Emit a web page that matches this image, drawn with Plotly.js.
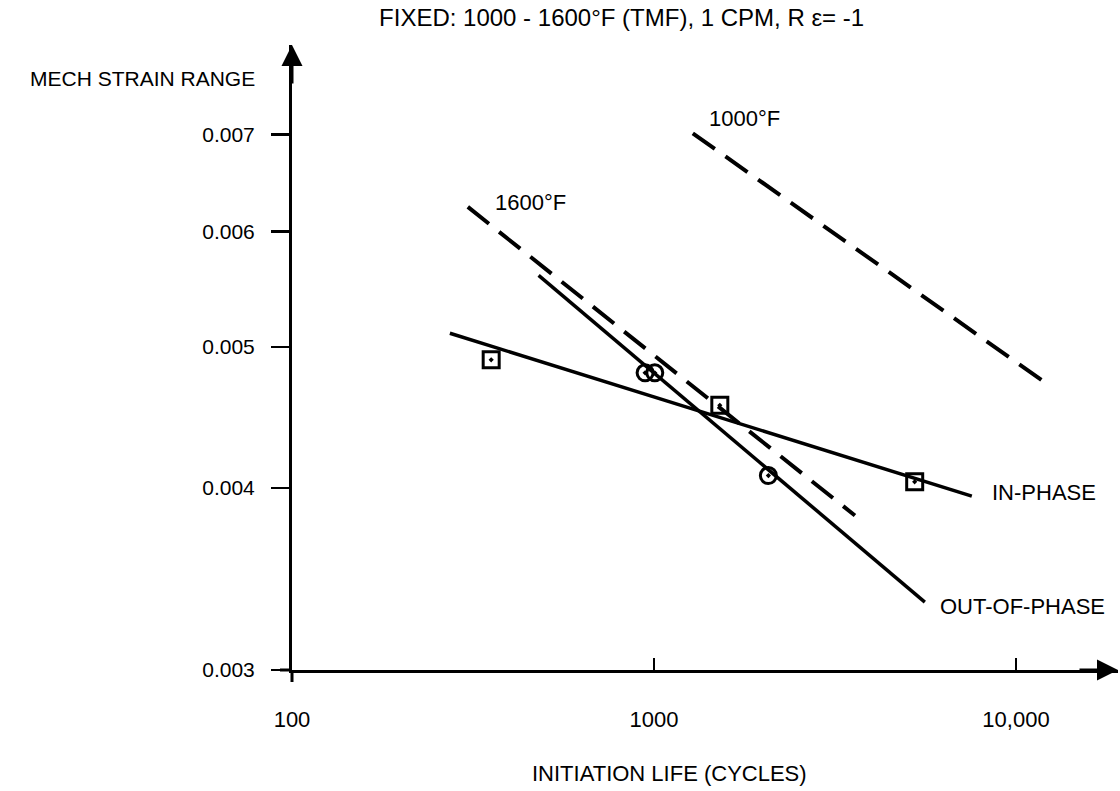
<!DOCTYPE html>
<html>
<head>
<meta charset="utf-8">
<script src="https://cdn.plot.ly/plotly-3.0.1.min.js"></script>
<style>html,body{margin:0;padding:0;background:#fff;}#chart{width:1120px;height:791px;}</style>
</head>
<body>
<div id="chart"></div>
<script>
// Data
const inPhaseCycles = [355, 1520, 5250];
const inPhaseStrain = [0.0049, 0.00456, 0.00404];
const outPhaseCycles = [945, 1005, 2070];
const outPhaseStrain = [0.0048, 0.0048, 0.00408];
const inFitCycles = [273, 7550];
const inFitStrain = [0.00511, 0.00395];
const outFitCycles = [480, 5600];
const outFitStrain = [0.0056, 0.00334];
const iso1600Cycles = [306, 3590];
const iso1600Strain = [0.00624, 0.00383];
const iso1000Cycles = [1280, 12570];
const iso1000Strain = [0.00701, 0.00469];
const xTickVals = [100, 1000, 10000];
const xTickText = ['100', '1000', '10,000'];
const yTickVals = [0.003, 0.004, 0.005, 0.006, 0.007];
const yTickText = ['0.003', '0.004', '0.005', '0.006', '0.007'];
const labelText = ['IN-PHASE', 'OUT-OF-PHASE', '1600°F', '1000°F'];
const labelCycles = [8500, 6090, 359, 1401];
const labelStrain = [0.00397, 0.003316, 0.00628, 0.00718];

const FONT = 'Liberation Sans, Arial, Helvetica, sans-serif';
const NARROW = 'Liberation Sans Narrow, Arial Narrow, Liberation Sans, Arial, sans-serif';
const BLACK = '#000';

const traces = [
  {x: inFitCycles, y: inFitStrain, mode: 'lines', line: {color: BLACK, width: 3.5}, hoverinfo: 'skip'},
  {x: outFitCycles, y: outFitStrain, mode: 'lines', line: {color: BLACK, width: 3.5}, hoverinfo: 'skip'},
  {x: iso1600Cycles, y: iso1600Strain, mode: 'lines', line: {color: BLACK, width: 4, dash: '27px,13px'}, hoverinfo: 'skip'},
  {x: iso1000Cycles, y: iso1000Strain, mode: 'lines', line: {color: BLACK, width: 4, dash: '27px,13px'}, hoverinfo: 'skip'},
  {x: inPhaseCycles, y: inPhaseStrain, mode: 'markers',
   marker: {symbol: 'square-open-dot', size: 16, color: BLACK, line: {color: BLACK, width: 3}}},
  {x: outPhaseCycles, y: outPhaseStrain, mode: 'markers',
   marker: {symbol: 'circle-open-dot', size: 16, color: BLACK, line: {color: BLACK, width: 3}}}
];

const annotations = labelText.map((t, i) => ({
  x: Math.log10(labelCycles[i]), y: Math.log10(labelStrain[i]), xref: 'x', yref: 'y',
  text: t, showarrow: false, xanchor: 'left', yanchor: 'middle',
  font: {family: FONT, size: 22, color: BLACK}
}));
annotations.push(
  {xref: 'paper', yref: 'paper', x: -0.0424, y: 0.947, xanchor: 'right', yanchor: 'middle',
   text: 'MECH STRAIN RANGE', showarrow: false, font: {family: FONT, size: 21, color: BLACK}},
  {xref: 'paper', yref: 'paper', x: 0.4576, y: -0.165, xanchor: 'center', yanchor: 'middle',
   text: 'INITIATION LIFE (CYCLES)', showarrow: false, font: {family: NARROW, size: 22, color: BLACK}},
  {xref: 'paper', yref: 'paper', x: 0, y: 1.0, ax: 0, ay: 40, text: '', showarrow: true,
   arrowhead: 2, arrowsize: 1.4, arrowwidth: 3, arrowcolor: BLACK},
  {xref: 'paper', yref: 'paper', x: 1.0, y: 0, ax: -40, ay: 0, text: '', showarrow: true,
   arrowhead: 2, arrowsize: 1.4, arrowwidth: 3, arrowcolor: BLACK}
);

const layout = {
  width: 1120, height: 791,
  margin: {l: 292, r: 2, t: 45, b: 121},
  paper_bgcolor: '#fff', plot_bgcolor: '#fff',
  showlegend: false,
  title: {text: 'FIXED: 1000 - 1600°F (TMF), 1 CPM, R ε= -1', xref: 'container', yref: 'container',
          x: 0.555, y: 0.978, xanchor: 'center', yanchor: 'middle',
          font: {family: NARROW, size: 24, color: BLACK}},
  xaxis: {type: 'log', range: [2, 4.2818], showgrid: false, zeroline: false,
          showline: true, linecolor: BLACK, linewidth: 3,
          ticks: 'inside', ticklen: 12, tickwidth: 2, tickcolor: BLACK,
          tickvals: xTickVals, ticktext: xTickText, ticklabelstandoff: 28,
          tickfont: {family: NARROW, size: 22, color: BLACK}, fixedrange: true},
  yaxis: {type: 'log', range: [Math.log10(0.003), -2.0936], showgrid: false, zeroline: false,
          showline: true, linecolor: BLACK, linewidth: 3,
          ticks: 'outside', ticklen: 18, tickwidth: 2.5, tickcolor: BLACK,
          tickvals: yTickVals, ticktext: yTickText, ticklabelstandoff: 12,
          tickfont: {family: FONT, size: 21, color: BLACK}, fixedrange: true},
  shapes: [
    {type: 'line', xref: 'paper', yref: 'paper', xsizemode: 'pixel', xanchor: 0, x0: -12, x1: 0, y0: 0, y1: 0,
     line: {color: BLACK, width: 3}},
    {type: 'line', xref: 'paper', yref: 'paper', ysizemode: 'pixel', yanchor: 0, y0: -12, y1: 0, x0: 0, x1: 0,
     line: {color: BLACK, width: 3}}
  ],
  annotations: annotations
};

Plotly.newPlot('chart', traces, layout, {displayModeBar: false, staticPlot: true});
</script>
</body>
</html>
